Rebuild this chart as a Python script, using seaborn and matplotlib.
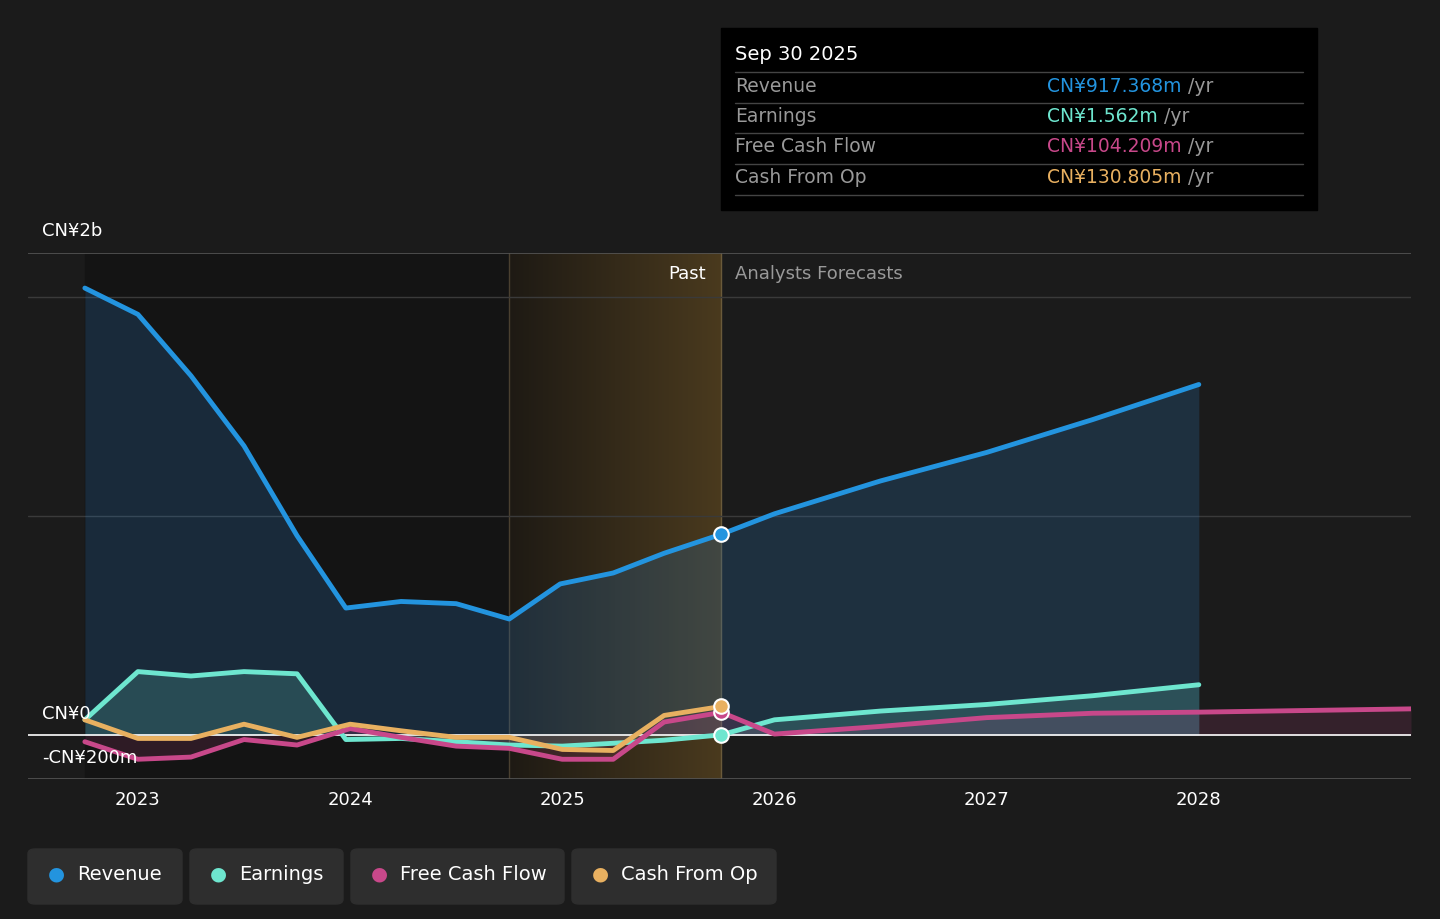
import numpy as np
import pandas as pd
import matplotlib
matplotlib.use("Agg")
import matplotlib.pyplot as plt
import seaborn as sns
from matplotlib.patches import FancyBboxPatch, Rectangle

# values in CN¥ billions
rev_x = [2022.75, 2023.0, 2023.25, 2023.5, 2023.75, 2023.98, 2024.24, 2024.5, 2024.75, 2024.99, 2025.24, 2025.48, 2025.75,
         2026.0, 2026.5, 2027.0, 2027.5, 2028.0]
rev_y = [2.04, 1.92, 1.64, 1.32, 0.91, 0.58, 0.61, 0.60, 0.53, 0.69, 0.74, 0.83, 0.917,
         1.01, 1.16, 1.29, 1.44, 1.60]
earn_x = [2022.75, 2023.0, 2023.25, 2023.5, 2023.75, 2023.98, 2024.24, 2024.5, 2024.75, 2025.0, 2025.24, 2025.48, 2025.75,
          2026.0, 2026.5, 2027.0, 2027.5, 2028.0]
earn_y = [0.07, 0.29, 0.27, 0.29, 0.28, -0.02, -0.015, -0.03, -0.045, -0.05, -0.037, -0.023, 0.0016,
          0.07, 0.11, 0.14, 0.18, 0.23]
fcf_x = [2022.75, 2023.0, 2023.25, 2023.5, 2023.75, 2024.0, 2024.24, 2024.5, 2024.75, 2025.0, 2025.24, 2025.48, 2025.75,
         2026.0, 2026.5, 2027.0, 2027.5, 2028.0, 2029.0]
fcf_y = [-0.03, -0.11, -0.10, -0.02, -0.045, 0.03, -0.01, -0.05, -0.06, -0.11, -0.11, 0.06, 0.104,
         0.005, 0.04, 0.08, 0.10, 0.105, 0.12]
cfo_x = [2022.75, 2023.0, 2023.25, 2023.5, 2023.75, 2024.0, 2024.24, 2024.5, 2024.75, 2025.0, 2025.24, 2025.48, 2025.75]
cfo_y = [0.07, -0.015, -0.015, 0.05, -0.01, 0.05, 0.02, -0.01, -0.01, -0.065, -0.07, 0.09, 0.131]

c_rev, c_earn, c_fcf, c_cfo = "#2394df", "#6ee6cf", "#c8488a", "#e8b060"
bg = "#1b1b1b"

sns.set_style("dark")
plt.rcParams["font.family"] = ["DejaVu Sans"]
fig = plt.figure(figsize=(14.4, 9.19), dpi=100, facecolor=bg)
ax = fig.add_axes([28/1440, 1-779/919, (1411-28)/1440, (779-253)/919])
ax.set_facecolor(bg)
ax.set_xlim(2022.482, 2029.0)
ax.set_ylim(-0.2, 2.2)

# past / recent shading
ax.axvspan(2022.75, 2024.75, color="#141414", zorder=0)
grad = np.linspace(0, 1, 256).reshape(1, -1)
ax.imshow(grad, extent=[2024.75, 2025.75, -0.2, 2.2], aspect="auto", zorder=0,
          cmap=matplotlib.colors.LinearSegmentedColormap.from_list("g", ["#1e1a14", "#4a3a1e"]))
ax.axvline(2024.75, color="#4a4030", lw=1, zorder=1)
ax.axvline(2025.75, color="#6a5a3a", lw=1, zorder=1)

for y in [1.0, 2.0]:
    ax.axhline(y, color="#3a3a3a", lw=1, zorder=1)
ax.axhline(2.2, color="#555555", lw=1.2)
ax.axhline(-0.2, color="#555555", lw=1.2)
ax.axhline(0, color="white", lw=1.2, zorder=2)

ax.fill_between(rev_x, rev_y, 0, color="#2a6fae", alpha=0.25, lw=0, zorder=1)
ax.fill_between(earn_x, earn_y, 0, color=c_earn, alpha=0.18, lw=0, zorder=1)
ax.fill_between(fcf_x, fcf_y, 0, color=c_fcf, alpha=0.15, lw=0, zorder=1)

for xs, ys, c in [(rev_x, rev_y, c_rev), (earn_x, earn_y, c_earn), (fcf_x, fcf_y, c_fcf), (cfo_x, cfo_y, c_cfo)]:
    sns.lineplot(x=xs, y=ys, color=c, lw=3.5, ax=ax, zorder=3)
for ys, c in [(rev_y[12], c_rev), (earn_y[12], c_earn), (fcf_y[12], c_fcf), (cfo_y[12], c_cfo)]:
    ax.scatter([2025.75], [ys], s=110, color=c, edgecolor="white", lw=1.5, zorder=5)

ax.set_xticks([2023, 2024, 2025, 2026, 2027, 2028])
ax.set_xticklabels(["2023", "2024", "2025", "2026", "2027", "2028"], color="white", fontsize=13)
ax.set_yticks([])
ax.tick_params(axis="x", length=5, color="#555555")
for s in ax.spines.values():
    s.set_visible(False)
ax.grid(False)

fig.text(42/1440, 1-231/919, "CN¥2b", color="white", fontsize=13, va="center")
fig.text(42/1440, 1-714/919, "CN¥0", color="white", fontsize=13, va="center")
fig.text(42/1440, 1-758/919, "-CN¥200m", color="white", fontsize=13, va="center")
fig.text(706/1440, 1-274/919, "Past", color="white", fontsize=13, va="center", ha="right")
fig.text(735/1440, 1-274/919, "Analysts Forecasts", color="#999999", fontsize=13, va="center")

# tooltip
fig.patches.append(Rectangle((721/1440, 1-210/919), 596/1440, 182/919, transform=fig.transFigure,
                             color="black", zorder=10))
fig.text(735/1440, 1-55/919, "Sep 30 2025", color="white", fontsize=14, va="center", zorder=11)
rows = [("Revenue", "CN¥917.368m", c_rev), ("Earnings", "CN¥1.562m", c_earn),
        ("Free Cash Flow", "CN¥104.209m", c_fcf), ("Cash From Op", "CN¥130.805m", c_cfo)]
renderer = fig.canvas.get_renderer()
for i, (name, val, c) in enumerate(rows):
    yy = 86 + i * 30.5
    fig.lines.append(plt.Line2D([735/1440, 1303/1440], [1-(yy-14)/919]*2, color="#444444", lw=1,
                                transform=fig.transFigure, zorder=11))
    fig.text(735/1440, 1-yy/919, name, color="#999999", fontsize=13.5, va="center", zorder=11)
    t = fig.text(1047/1440, 1-yy/919, val, color=c, fontsize=13.5, va="center", zorder=11)
    w = t.get_window_extent(renderer).width
    fig.text((1047 + w + 6)/1440, 1-yy/919, "/yr", color="#999999", fontsize=13.5, va="center", zorder=11)
fig.lines.append(plt.Line2D([735/1440, 1303/1440], [1-195/919]*2, color="#444444", lw=1,
                            transform=fig.transFigure, zorder=11))

# legend buttons
legend = [("Revenue", c_rev, 28, 182), ("Earnings", c_earn, 190, 343),
          ("Free Cash Flow", c_fcf, 351, 564), ("Cash From Op", c_cfo, 572, 776)]
for name, c, x0, x1 in legend:
    fig.patches.append(FancyBboxPatch((x0/1440, 1-904/919), (x1-x0)/1440, 55/919,
                                      boxstyle="round,pad=0,rounding_size=0.005", transform=fig.transFigure,
                                      color="#2e2e2e"))
    fig.text((x0+20)/1440, 1-874/919, "●", color=c, fontsize=14, va="center")
    fig.text((x0+49)/1440, 1-874/919, name, color="white", fontsize=14, va="center")

fig.savefig("out.png", dpi=100, facecolor=bg)
